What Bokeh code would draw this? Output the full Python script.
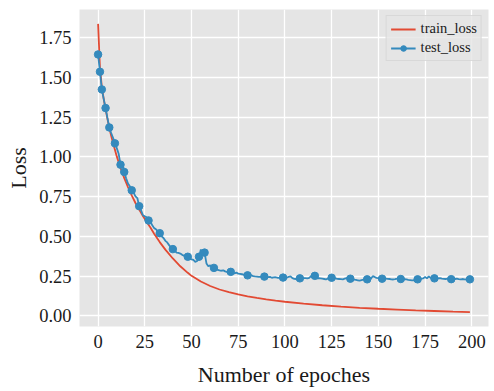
import numpy as np
from bokeh.plotting import figure
from bokeh.models import Range1d, FixedTicker, PrintfTickFormatter, Legend, LegendItem
from bokeh.embed import file_html
from bokeh.resources import INLINE

# ---------------- data ----------------
train_epochs = [0, 1, 2, 3, 4, 5, 6, 7, 8, 9, 10, 12, 14, 16, 18, 20, 22, 24, 26, 28,
                30, 33, 36, 40, 44, 48, 50, 55, 60, 65, 70, 75, 80, 85, 90, 95, 100,
                110, 120, 130, 140, 150, 160, 170, 180, 190, 199]
train_loss = [1.836, 1.560, 1.440, 1.365, 1.300, 1.240, 1.183, 1.132, 1.087, 1.044, 1.003,
              0.930, 0.866, 0.810, 0.758, 0.710, 0.668, 0.628, 0.590, 0.556,
              0.517, 0.464, 0.417, 0.361, 0.312, 0.271, 0.252, 0.216, 0.188, 0.166,
              0.149, 0.135, 0.123, 0.113, 0.104, 0.096, 0.089,
              0.077, 0.067, 0.058, 0.051, 0.045, 0.040, 0.035, 0.031, 0.027, 0.024]

test_loss = [
    1.644, 1.535, 1.424, 1.365, 1.307, 1.245, 1.185, 1.150, 1.120, 1.085,   # 0-9
    1.055, 1.020, 0.951, 0.962, 0.905, 0.865, 0.832, 0.815, 0.790, 0.775,   # 10-19
    0.752, 0.741, 0.690, 0.664, 0.633, 0.626, 0.620, 0.600, 0.590, 0.570,   # 20-29
    0.552, 0.545, 0.530, 0.520, 0.500, 0.490, 0.472, 0.462, 0.445, 0.430,   # 30-39
    0.420, 0.410, 0.398, 0.396, 0.392, 0.384, 0.378, 0.372, 0.372, 0.360,   # 40-49
    0.356, 0.352, 0.340, 0.345, 0.372, 0.417, 0.381, 0.398, 0.330, 0.312,   # 50-59
    0.318, 0.304, 0.302, 0.292, 0.290, 0.286, 0.284, 0.287, 0.280, 0.276,   # 60-69
    0.275, 0.277, 0.270, 0.268, 0.272, 0.266, 0.264, 0.262, 0.260, 0.262,   # 70-79
    0.255, 0.252, 0.256, 0.250, 0.248, 0.247, 0.245, 0.246, 0.243, 0.247,   # 80-89
    0.242, 0.244, 0.245, 0.240, 0.242, 0.243, 0.240, 0.239, 0.242, 0.241,   # 90-99
    0.238, 0.240, 0.246, 0.248, 0.237, 0.233, 0.232, 0.230, 0.236, 0.240,   # 100-109
    0.238, 0.237, 0.236, 0.239, 0.250, 0.243, 0.252, 0.236, 0.238, 0.236,   # 110-119
    0.234, 0.232, 0.230, 0.234, 0.237, 0.240, 0.238, 0.236, 0.233, 0.232,   # 120-129
    0.231, 0.230, 0.234, 0.238, 0.236, 0.234, 0.232, 0.228, 0.226, 0.224,   # 130-139
    0.222, 0.225, 0.228, 0.232, 0.230, 0.243, 0.233, 0.250, 0.245, 0.239,   # 140-149
    0.238, 0.236, 0.234, 0.236, 0.235, 0.233, 0.232, 0.230, 0.229, 0.231,   # 150-159
    0.234, 0.238, 0.232, 0.230, 0.231, 0.229, 0.226, 0.225, 0.224, 0.224,   # 160-169
    0.226, 0.230, 0.232, 0.234, 0.236, 0.244, 0.236, 0.248, 0.239, 0.238,   # 170-179
    0.236, 0.234, 0.236, 0.238, 0.235, 0.233, 0.232, 0.235, 0.233, 0.231,   # 180-189
    0.230, 0.232, 0.234, 0.231, 0.229, 0.232, 0.230, 0.229, 0.231, 0.230,   # 190-199
]
test_epochs = list(range(len(test_loss)))

x_ticks = [0, 25, 50, 75, 100, 125, 150, 175, 200]
y_ticks = [0.0, 0.25, 0.5, 0.75, 1.0, 1.25, 1.5, 1.75]

x_label = "Number of epoches"
y_label = "Loss"
train_name = "train_loss"
test_name = "test_loss"

# ---------------- styling ----------------
FONT = "Liberation Serif"
RED = "#E24A33"
BLUE = "#348ABD"

W, H = 494, 391
LEFT, RIGHT, TOP, BOTTOM = 79, 6, 9, 65
frame_w = W - LEFT - RIGHT
frame_h = H - TOP - BOTTOM

# matplotlib-like 5% margins
xmin, xmax = 0, max(test_epochs[-1], train_epochs[-1])
all_y = np.array(train_loss + test_loss)
ymin, ymax = all_y.min(), all_y.max()
xpad = 0.05 * (xmax - xmin)
ypad = 0.05 * (ymax - ymin)
x0, x1 = xmin - xpad, xmax + xpad
y0, y1 = ymin - ypad, ymax + ypad

p = figure(width=W, height=H, output_backend="svg", toolbar_location=None,
           x_range=Range1d(x0, x1), y_range=Range1d(y0, y1))
p.min_border_left = LEFT
p.min_border_right = RIGHT
p.min_border_top = TOP
p.min_border_bottom = BOTTOM
p.background_fill_color = "#E5E5E5"
p.border_fill_color = "white"
p.outline_line_color = None

for g in (p.xgrid, p.ygrid):
    g.grid_line_color = "white"
    g.grid_line_width = 1.3

p.xaxis.ticker = FixedTicker(ticks=x_ticks)
p.yaxis.ticker = FixedTicker(ticks=y_ticks)
p.yaxis.formatter = PrintfTickFormatter(format="%.2f")
p.xaxis.formatter = PrintfTickFormatter(format="%d")

for ax in (p.xaxis, p.yaxis):
    ax.axis_line_color = None
    ax.major_tick_line_color = None
    ax.minor_tick_line_color = None
    ax.major_tick_out = 0
    ax.major_tick_in = 0
    ax.minor_tick_out = 0
    ax.major_label_text_font = FONT
    ax.major_label_text_font_size = "18.5px"
    ax.major_label_text_color = "#1a1a1a"
    ax.major_label_standoff = 8
    ax.axis_label_text_font = FONT
    ax.axis_label_text_font_size = "22px"
    ax.axis_label_text_font_style = "normal"
    ax.axis_label_text_color = "#1a1a1a"

p.xaxis.axis_label = x_label
p.yaxis.axis_label = y_label
p.xaxis.axis_label_standoff = 11
p.yaxis.axis_label_standoff = 5

# lines
r_train = p.line(train_epochs, train_loss, line_color=RED, line_width=1.8)
r_test = p.line(test_epochs, test_loss, line_color=BLUE, line_width=1.8)

# markers spaced at equal visual distance along the line (like matplotlib markevery=float)
sx = frame_w / (x1 - x0)
sy = frame_h / (y1 - y0)
px = np.array(test_epochs) * sx
py = np.array(test_loss) * sy
d = np.concatenate([[0.0], np.cumsum(np.hypot(np.diff(px), np.diff(py)))])
step = 0.035 * np.hypot(frame_w, frame_h)
marks = np.arange(0.0, d[-1], step)
idx = np.unique(np.argmin(np.abs(d[:, None] - marks[None, :]), axis=0))
mx = [test_epochs[i] for i in idx]
my = [test_loss[i] for i in idx]
r_mark = p.scatter(mx, my, marker="circle", size=7.5, fill_color=BLUE, line_color=BLUE)

legend = Legend(items=[LegendItem(label=train_name, renderers=[r_train]),
                       LegendItem(label=test_name, renderers=[r_test, r_mark])],
                location="top_right")
legend.margin = 6
legend.padding = 4
legend.spacing = 2
legend.glyph_width = 25
legend.glyph_height = 14
legend.label_height = 14
legend.label_standoff = 5
legend.label_text_font = FONT
legend.label_text_font_size = "14.5px"
legend.label_text_color = "#1a1a1a"
legend.background_fill_color = "#E5E5E5"
legend.background_fill_alpha = 0.8
legend.border_line_color = "#CCCCCC"
legend.border_line_width = 1
p.add_layout(legend, "center")

open("out.html", "w").write(file_html(p, INLINE))
